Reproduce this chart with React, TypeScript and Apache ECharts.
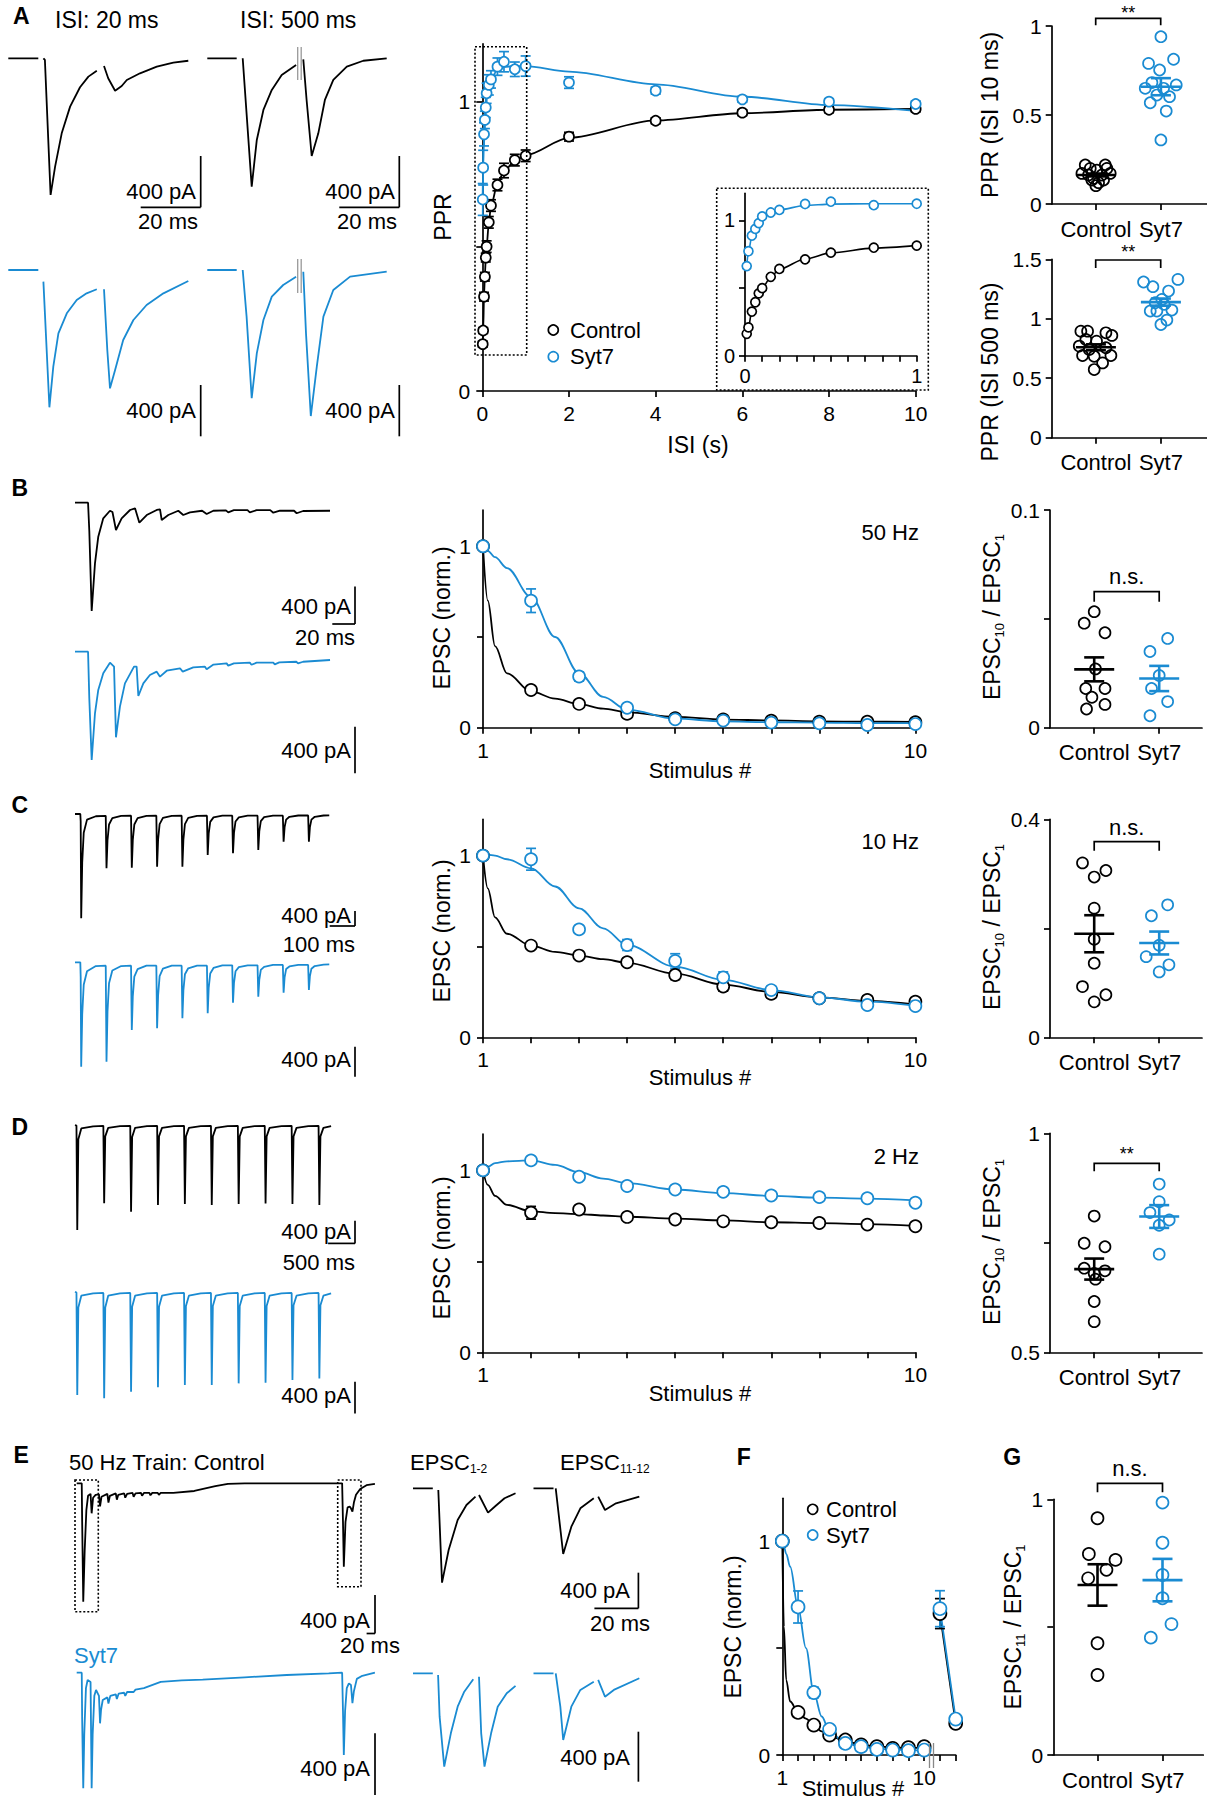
import React, { useEffect, useRef } from "react";
import * as echarts from "echarts";

const BLUE = "#1a8bd2";
const BLACK = "#000000";
const FONT = "'Liberation Sans', Arial, Helvetica, sans-serif";

// ---------------- Panel A (middle): PPR vs ISI ----------------
const isiSeconds = [0.01, 0.02, 0.04, 0.06, 0.08, 0.1, 0.15, 0.2, 0.35, 0.5, 0.75, 1, 2, 4, 6, 8, 10];
const pprControl = [0.162, 0.209, 0.326, 0.395, 0.461, 0.499, 0.583, 0.641, 0.712, 0.762, 0.798, 0.813, 0.879, 0.934, 0.962, 0.972, 0.975];
const pprSyt7 = [0.662, 0.772, 0.887, 0.937, 0.98, 1.029, 1.058, 1.077, 1.121, 1.138, 1.112, 1.123, 1.066, 1.038, 1.008, 1.0, 0.992];
const pprControlSem = [0.01, 0.01, 0.015, 0.015, 0.015, 0.02, 0.02, 0.02, 0.02, 0.025, 0.02, 0.02, 0.015, 0.01, 0.01, 0.01, 0.01];
const pprSyt7Sem = [0.055, 0.06, 0.04, 0.03, 0.035, 0.035, 0.035, 0.03, 0.03, 0.035, 0.025, 0.035, 0.02, 0.012, 0.01, 0.01, 0.01];
const pprFitX = [0.01, 0.02, 0.04, 0.06, 0.08, 0.1, 0.15, 0.2, 0.35, 0.5, 0.75, 1, 2, 4, 6, 8, 10];
const pprFitControl = [0.165, 0.21, 0.33, 0.4, 0.46, 0.5, 0.58, 0.64, 0.715, 0.76, 0.795, 0.815, 0.875, 0.935, 0.96, 0.972, 0.975];
const pprFitSyt7 = [0.66, 0.77, 0.88, 0.94, 0.98, 1.02, 1.055, 1.078, 1.11, 1.12, 1.123, 1.123, 1.104, 1.06, 1.017, 0.988, 0.968];

// ---------------- Panel A (right): PPR scatter ----------------
const ppr10Control = [0.219, 0.219, 0.2, 0.2, 0.19, 0.172, 0.172, 0.163, 0.163, 0.144, 0.135, 0.135, 0.12, 0.103];
const ppr10ControlDx = [-0.164, 0.144, -0.087, 0.169, 0.015, -0.215, 0.22, -0.113, 0.092, -0.036, -0.062, 0.118, 0.041, 0];
const ppr10Syt7 = [0.94, 0.813, 0.79, 0.753, 0.682, 0.669, 0.65, 0.65, 0.612, 0.603, 0.569, 0.522, 0.36];
const ppr10Syt7Dx = [0, 0.195, -0.19, -0.02, -0.138, 0.236, -0.241, 0.041, -0.062, 0.133, -0.164, 0.082, 0];
const ppr10Mean = [0.163, 0.659];
const ppr10Sem = [0.008, 0.048];

const ppr500Control = [0.896, 0.896, 0.882, 0.86, 0.826, 0.812, 0.691, 0.685, 0.691, 0.742, 0.629, 0.573, 0.77, 0.756];
const ppr500ControlDx = [-0.231, -0.128, 0.154, 0.246, -0.154, 0.01, -0.205, -0.026, 0.231, -0.103, 0.103, -0.026, -0.256, 0.154];
const ppr500Syt7 = [1.309, 1.27, 1.331, 1.233, 1.065, 1.065, 1.073, 1.121, 0.989, 0.952, 1.135, 1.163];
const ppr500Syt7Dx = [-0.267, -0.123, 0.262, 0.118, -0.164, -0.062, 0.169, 0.051, 0.092, 0, -0.087, 0.015];
const ppr500Mean = [0.76, 1.14];
const ppr500Sem = [0.025, 0.03];

// ---------------- Panels B-D (middle): normalized EPSC trains ----------------
const stimulus = [1, 2, 3, 4, 5, 6, 7, 8, 9, 10];
const hz50Control = [1.0, 0.208, 0.131, 0.076, 0.052, 0.046, 0.039, 0.033, 0.033, 0.03];
const hz50Syt7 = [1.0, 0.7, 0.282, 0.11, 0.046, 0.039, 0.028, 0.024, 0.015, 0.02];
const hz50ControlSem = [0, 0.008, 0.008, 0.006, 0.005, 0.005, 0.005, 0.005, 0.005, 0.005];
const hz50Syt7Sem = [0, 0.065, 0.025, 0.012, 0.008, 0.006, 0.005, 0.005, 0.005, 0.005];
const fitStimX = [1, 1.1, 1.25, 1.5, 2, 2.5, 3, 3.5, 4, 5, 6, 7, 8, 9, 10];
const hz50FitControl = [1.0, 0.7, 0.45, 0.3, 0.2, 0.16, 0.13, 0.105, 0.085, 0.06, 0.045, 0.04, 0.035, 0.033, 0.032];
const hz50FitSyt7 = [1.0, 0.975, 0.94, 0.88, 0.72, 0.5, 0.3, 0.17, 0.1, 0.05, 0.035, 0.03, 0.028, 0.025, 0.025];

const hz10Control = [1.0, 0.505, 0.45, 0.413, 0.343, 0.279, 0.239, 0.215, 0.206, 0.196];
const hz10Syt7 = [1.0, 0.98, 0.594, 0.508, 0.42, 0.33, 0.26, 0.215, 0.178, 0.172];
const hz10ControlSem = [0, 0.015, 0.01, 0.02, 0.025, 0.025, 0.02, 0.02, 0.02, 0.02];
const hz10Syt7Sem = [0, 0.06, 0.02, 0.03, 0.04, 0.03, 0.02, 0.02, 0.015, 0.015];
const hz10FitControl = [1.0, 0.82, 0.66, 0.57, 0.505, 0.47, 0.45, 0.43, 0.41, 0.35, 0.29, 0.25, 0.22, 0.2, 0.18];
const hz10FitSyt7 = [1.0, 1.005, 1.0, 0.98, 0.93, 0.83, 0.71, 0.6, 0.508, 0.389, 0.316, 0.26, 0.22, 0.196, 0.172];

const hz2Control = [1.0, 0.767, 0.785, 0.744, 0.73, 0.72, 0.715, 0.711, 0.702, 0.693];
const hz2Syt7 = [1.0, 1.055, 0.965, 0.914, 0.895, 0.882, 0.862, 0.853, 0.847, 0.822];
const hz2ControlSem = [0, 0.035, 0.01, 0.01, 0.01, 0.01, 0.01, 0.01, 0.01, 0.01];
const hz2Syt7Sem = [0, 0.01, 0.01, 0.01, 0.01, 0.01, 0.01, 0.01, 0.01, 0.01];
const hz2FitControl = [1.0, 0.92, 0.86, 0.81, 0.775, 0.765, 0.76, 0.752, 0.745, 0.735, 0.725, 0.715, 0.71, 0.705, 0.695];
const hz2FitSyt7 = [1.0, 1.02, 1.04, 1.05, 1.055, 1.03, 0.99, 0.955, 0.93, 0.895, 0.875, 0.86, 0.85, 0.845, 0.835];

// ---------------- Panels B-D (right): EPSC10 / EPSC1 ----------------
const b10Control = [0.0533, 0.048, 0.0436, 0.027, 0.018, 0.018, 0.014, 0.0107, 0.0086];
const b10ControlDx = [0, -0.154, 0.166, 0.02, -0.13, 0.166, -0.035, 0.166, -0.118];
const b10Syt7 = [0.041, 0.035, 0.024, 0.018, 0.012, 0.0055];
const b10Syt7Dx = [0.13, -0.142, 0, -0.118, 0.13, -0.142];
const b10Mean = [0.0268, 0.0226];
const b10Sem = [0.0055, 0.0058];

const c10Control = [0.32, 0.306, 0.294, 0.237, 0.18, 0.136, 0.093, 0.078, 0.065];
const c10ControlDx = [-0.18, 0.18, 0, 0, 0, 0, -0.18, 0.18, 0];
const c10Syt7 = [0.243, 0.223, 0.169, 0.148, 0.133, 0.12];
const c10Syt7Dx = [0.13, -0.12, 0, -0.2, 0.15, 0];
const c10Mean = [0.19, 0.173];
const c10Sem = [0.034, 0.021];

const d10Control = [0.811, 0.749, 0.741, 0.692, 0.686, 0.68, 0.667, 0.616, 0.57];
const d10ControlDx = [0, -0.154, 0.166, -0.154, 0.166, 0, 0.02, 0, 0];
const d10Syt7 = [0.884, 0.844, 0.819, 0.802, 0.79, 0.724];
const d10Syt7Dx = [0, 0, -0.142, 0.154, 0, 0];
const d10Mean = [0.69, 0.81];
const d10Sem = [0.024, 0.026];

// ---------------- Panel F: 50 Hz train + recovery ----------------
const fStimulus = [1, 2, 3, 4, 5, 6, 7, 8, 9, 10];
const fControl = [1.0, 0.199, 0.14, 0.093, 0.07, 0.047, 0.039, 0.031, 0.034, 0.039];
const fSyt7 = [1.0, 0.692, 0.292, 0.12, 0.054, 0.039, 0.026, 0.023, 0.02, 0.023];
const fControlSem = [0, 0.01, 0.008, 0.006, 0.005, 0.005, 0.005, 0.005, 0.005, 0.005];
const fSyt7Sem = [0, 0.075, 0.025, 0.012, 0.006, 0.005, 0.005, 0.005, 0.005, 0.005];
const fFitControl = [1.0, 0.6, 0.35, 0.25, 0.2, 0.17, 0.14, 0.11, 0.09, 0.065, 0.048, 0.04, 0.035, 0.033, 0.033];
const fFitSyt7 = [1.0, 0.975, 0.94, 0.88, 0.69, 0.5, 0.29, 0.18, 0.11, 0.055, 0.04, 0.03, 0.025, 0.022, 0.022];
const fRecoveryStim = [11, 12];
const fRecoveryControl = [0.661, 0.148];
const fRecoverySyt7 = [0.684, 0.168];
const fRecoveryControlSem = [0.07, 0.01];
const fRecoverySyt7Sem = [0.084, 0.01];

// ---------------- Panel G: EPSC11 / EPSC1 ----------------
const g11Control = [0.926, 0.786, 0.763, 0.724, 0.691, 0.437, 0.313];
const g11ControlDx = [0, -0.133, 0.277, 0.138, -0.144, 0, 0];
const g11Syt7 = [0.987, 0.83, 0.704, 0.613, 0.512, 0.459];
const g11Syt7Dx = [0, 0, 0, 0, 0.138, -0.18];
const g11Mean = [0.665, 0.684];
const g11Sem = [0.081, 0.083];

// ---------------- Example traces: [time ms, current pA] ----------------
const traceA20Control = [[0, 0], [10, 0], [10.5, null], [11.7, 0], [12.2, -13], [14.1, -1066], [15.6, -845], [17.8, -585], [20.6, -377], [23.9, -226], [26.7, -143], [29.5, -97], [30.5, null], [31.9, -60], [33.3, -156], [35.6, -253], [37.8, -216], [39.5, -169], [43.9, -117], [49.5, -65], [55, -34], [60, -19]];
const traceA20Syt7 = [[0, 0], [10, 0], [10.5, null], [11.7, -91], [13.7, -1071], [15, -754], [16.7, -494], [19.5, -338], [22.8, -234], [26.1, -182], [29.5, -150], [30.5, null], [31.9, -150], [33, -624], [33.9, -923], [35.6, -780], [38.3, -546], [41.7, -390], [46.1, -273], [51.7, -182], [60, -86]];
const traceA500Control = [[0, 0], [9.8, 0], [10.5, null], [11.8, 0], [14.8, -1001], [16.5, -637], [18.7, -403], [21.5, -247], [24.8, -130], [29.6, -52], [30.3, null], [32, -8], [33.1, -325], [34.8, -762], [37, -585], [39.2, -325], [42, -169], [46.5, -65], [52, -19], [59.8, 0]];
const traceA500Syt7 = [[0, 0], [9.8, 0], [10.5, null], [11.8, 0], [13.1, -364], [14.8, -1000], [16.5, -650], [18.7, -390], [21.5, -208], [25.3, -117], [29.6, -52], [30.3, null], [32, -13], [32.9, -494], [34.5, -1139], [36.5, -754], [38.7, -364], [42, -156], [47.6, -52], [59.8, -13]];

const trainB50Control = [[0, 0], [11.5, 0], [12.6, -300], [14.7, -1159], [17.6, -649], [20.5, -364], [24.9, -167], [30.8, -86], [33, -100], [36.1, -292], [41.1, -167], [48.5, -78], [52.9, -60], [56.7, -214], [63.2, -132], [72, -78], [74.9, -71], [76.4, -185], [82.2, -132], [91, -86], [95.4, -132], [101.3, -103], [112, -86], [116, -121], [121.9, -86], [133, -82], [135, -103], [140, -80], [152, -80], [154, -103], [160, -80], [172, -80], [174.7, -107], [180.6, -86], [193, -86], [195.3, -113], [201, -89], [224.7, -86]];
const trainB50Syt7 = [[0, 0], [11.5, 0], [12.6, -400], [14.7, -928], [17.6, -528], [20.5, -328], [24.9, -185], [30.8, -94], [34.4, -128], [36.1, -734], [39.6, -471], [44, -271], [52, -128], [54.3, -128], [55.8, -380], [60.2, -271], [66, -200], [72, -171], [74.9, -214], [80.8, -163], [92.5, -142], [94.9, -171], [104.2, -134], [114.5, -128], [116, -150], [122, -110], [133.6, -100], [135, -120], [140, -100], [154, -94], [155.5, -112], [160, -94], [174.7, -94], [176, -108], [180, -92], [195, -86], [196.5, -100], [201, -86], [224.7, -71]];

const trainC10Control = [[0, 0], [21, 0], [22.5, -200], [24.5, -2785], [28.5, -1300], [34.5, -500], [47.5, -150], [82.5, -60],
  [121.5, -50], [124.5, -1450], [128.5, -700], [134.5, -280], [147.5, -110], [182.5, -50],
  [221.5, -45], [224.5, -1432], [228.5, -690], [234.5, -280], [247.5, -110], [282.5, -50],
  [321.5, -45], [324.5, -1406], [328.5, -680], [334.5, -270], [347.5, -105], [382.5, -50],
  [421.5, -45], [424.5, -1406], [428.5, -680], [434.5, -270], [447.5, -105], [482.5, -50],
  [521.5, -45], [524.5, -1094], [528.5, -520], [534.5, -210], [547.5, -90], [582.5, -45],
  [621.5, -45], [624.5, -1050], [628.5, -500], [634.5, -200], [647.5, -90], [682.5, -45],
  [721.5, -45], [724.5, -961], [728.5, -460], [734.5, -190], [747.5, -85], [782.5, -45],
  [821.5, -45], [824.5, -739], [828.5, -350], [834.5, -150], [847.5, -75], [882.5, -40],
  [921.5, -40], [924.5, -739], [928.5, -350], [934.5, -150], [947.5, -75], [982.5, -40], [1005, -35]];
const trainC10Syt7 = [[0, 0], [21, 0], [22.5, -200], [24.5, -1392], [28.5, -700], [34.5, -300], [47.5, -120], [82.5, -50],
  [121.5, -45], [124.5, -1325], [128.5, -660], [134.5, -280], [147.5, -110], [182.5, -50],
  [221.5, -45], [224.5, -903], [228.5, -450], [234.5, -190], [247.5, -90], [282.5, -45],
  [321.5, -45], [324.5, -880], [328.5, -440], [334.5, -185], [347.5, -85], [382.5, -45],
  [421.5, -45], [424.5, -747], [428.5, -370], [434.5, -160], [447.5, -80], [482.5, -45],
  [521.5, -45], [524.5, -680], [528.5, -340], [534.5, -150], [547.5, -75], [582.5, -40],
  [621.5, -40], [624.5, -539], [628.5, -270], [634.5, -120], [647.5, -65], [682.5, -40],
  [721.5, -40], [724.5, -459], [728.5, -230], [734.5, -100], [747.5, -60], [782.5, -35],
  [821.5, -35], [824.5, -405], [828.5, -200], [834.5, -90], [847.5, -55], [882.5, -35],
  [921.5, -35], [924.5, -369], [928.5, -185], [934.5, -85], [947.5, -50], [982.5, -30], [1005, -28]];

const trainD2Control = [[0, 0], [27, -10], [42, -1850], [62, -250], [117, -60], [337, -25],
  [527, -15], [542, -1378], [562, -200], [617, -50], [837, -20],
  [1027, -15], [1042, -1526], [1062, -210], [1117, -50], [1337, -20],
  [1527, -15], [1542, -1408], [1562, -200], [1617, -50], [1837, -20],
  [2027, -15], [2042, -1390], [2062, -200], [2117, -50], [2337, -20],
  [2527, -15], [2542, -1408], [2562, -200], [2617, -50], [2837, -20],
  [3027, -15], [3042, -1390], [3062, -200], [3117, -50], [3337, -20],
  [3527, -15], [3542, -1380], [3562, -200], [3617, -50], [3837, -20],
  [4027, -15], [4042, -1390], [4062, -200], [4117, -50], [4337, -20],
  [4527, -15], [4542, -1408], [4562, -200], [4617, -50], [4760, -20]];
const trainD2Syt7 = [[0, 0], [27, -10], [42, -1302], [62, -200], [117, -50], [337, -20],
  [527, -15], [542, -1343], [562, -200], [617, -50], [837, -20],
  [1027, -15], [1042, -1260], [1062, -190], [1117, -50], [1337, -20],
  [1527, -15], [1542, -1205], [1562, -190], [1617, -50], [1837, -20],
  [2027, -15], [2042, -1176], [2062, -180], [2117, -50], [2337, -20],
  [2527, -15], [2542, -1176], [2562, -180], [2617, -50], [2837, -20],
  [3027, -15], [3042, -1155], [3062, -180], [3117, -50], [3337, -20],
  [3527, -15], [3542, -1147], [3562, -180], [3617, -50], [3837, -20],
  [4027, -15], [4042, -1113], [4062, -170], [4117, -50], [4337, -20],
  [4527, -15], [4542, -1092], [4562, -170], [4617, -50], [4760, -20]];

const trainE50Control = [[0, 0], [12, 0], [13, -400], [15.6, -1231], [19, -700], [23, -280], [27, -130], [33, -110], [35.6, -312], [39, -150], [45, -120], [53, -115], [55.6, -240], [59, -140], [73, -110], [75.6, -200], [79, -130], [93, -105], [95.6, -170], [99, -120], [113, -105], [115.6, -150], [120, -110], [133, -100], [135.6, -140], [140, -105], [153, -100], [155.6, -130], [160, -100], [173, -100], [175.6, -125], [180, -100], [193, -100], [195.6, -120], [200, -100], [230, -100], [280, -80], [330, -30], [360, -5], [400, 0], [632, 0], [634, -400], [636, -867], [640, -400], [645, -250], [650, -243], [653, -260], [656.5, -295], [660, -200], [665, -120], [675, -60], [690, -20], [710, -5]];
const trainE50Syt7 = [[0, 0], [12, 0], [13, -300], [15.6, -749], [18, -400], [22, -100], [26, -47], [33, -60], [35.6, -749], [38, -400], [42, -150], [46, -112], [53, -150], [55.6, -328], [58, -240], [62, -177], [73, -160], [75.6, -200], [80, -150], [93, -140], [95.6, -170], [100, -135], [113, -130], [115.6, -150], [120, -125], [135.6, -125], [140, -110], [160, -100], [200, -60], [250, -50], [300, -45], [400, -30], [500, -15], [600, -5], [632, 0], [634, -250], [636, -533], [639, -250], [643, -100], [648, -69], [653, -80], [656.5, -198], [660, -120], [667, -40], [680, -20], [710, 0]];
const epsc12Control = [[0, 0], [9, 0], [10, null], [11.5, -19], [13.2, -1057], [16.2, -691], [20.3, -355], [24.3, -187], [28.4, -94], [29.2, null], [30, -75], [34.1, -273], [37.5, -198], [41.6, -112], [46.6, -56]];
const epsc12Syt7 = [[0, 0], [9, 0], [10, null], [11.4, -14], [12.1, -347], [14.2, -747], [17.2, -480], [20.3, -267], [23.3, -147], [27.4, -48], [28.5, null], [30, -27], [31, -480], [32.5, -747], [35.5, -480], [38.5, -267], [42.6, -160], [46.6, -101]];
const epsc1112Control = [[0, 0], [9.1, 0], [9.8, null], [10.1, 0], [13.5, -736], [17.2, -430], [21.3, -224], [27.4, -112], [28.3, null], [29.4, -94], [32.5, -243], [37.5, -168], [48.1, -94]];
const epsc1112Syt7 = [[0, 0], [9.1, 0], [9.8, null], [10.1, 0], [12.2, -267], [13.5, -533], [17.2, -267], [21.3, -133], [27.4, -67], [28.3, null], [29.4, -53], [32.5, -187], [36.5, -133], [48.1, -40]];

// ================================================================
function buildOption() {
  const grids: any[] = [];
  const xAxes: any[] = [];
  const yAxes: any[] = [];
  const series: any[] = [];
  const g: any[] = [];

  const addGrid = (rect: number[], xa: any, ya: any) => {
    const i = grids.length;
    grids.push({ left: rect[0], top: rect[1], width: rect[2], height: rect[3], containLabel: false, show: false });
    xAxes.push({ ...xa, gridIndex: i });
    yAxes.push({ ...ya, gridIndex: i });
    return i;
  };

  const valAxis = (min: number, max: number, ticks: number[], labels: number[], size = 21, margin = 12, fmt?: any) => ({
    type: "value", min, max,
    axisLine: { show: true, onZero: false, lineStyle: { color: BLACK, width: 1.7 } },
    axisTick: { show: true, length: 6, customValues: ticks, lineStyle: { color: BLACK, width: 1.7 } },
    axisLabel: { show: true, customValues: labels, formatter: fmt || ((v: number) => String(v)), color: BLACK, fontSize: size, fontFamily: FONT, margin },
    splitLine: { show: false },
  });
  const catAxis = (width: number) => valAxis(0.32, 0.32 + width / 65, [1, 2], [1, 2], 22, 14, (v: number) => (v < 1.5 ? "Control" : "Syt7"));

  const line = (i: number, data: any[], color: string, width = 1.8, smooth: any = 0.35) => series.push({
    type: "line", xAxisIndex: i, yAxisIndex: i, data, symbol: "none", showSymbol: false, smooth, smoothMonotone: "x",
    lineStyle: { color, width }, z: 2, silent: true, clip: false,
  });
  const dots = (i: number, data: any[], color: string, size: number, fill: string) => series.push({
    type: "scatter", xAxisIndex: i, yAxisIndex: i, data, symbol: "circle", symbolSize: size,
    itemStyle: { color: fill, borderColor: color, borderWidth: 1.7, opacity: 1 }, z: 5, silent: true, clip: false,
  });
  const errBars = (i: number, xs: number[], ys: number[], sems: number[], color: string, cap = 5) => series.push({
    type: "custom", xAxisIndex: i, yAxisIndex: i, silent: true, z: 3, clip: false,
    data: xs.map((x, k) => [x, ys[k] - sems[k], ys[k] + sems[k]]).filter((_, k) => sems[k] > 0),
    renderItem: (_p: any, api: any) => {
      const a = api.coord([api.value(0), api.value(1)]);
      const b = api.coord([api.value(0), api.value(2)]);
      const st = { stroke: color, lineWidth: 1.7 };
      return { type: "group", children: [
        { type: "line", shape: { x1: a[0], y1: a[1], x2: b[0], y2: b[1] }, style: st },
        { type: "line", shape: { x1: a[0] - cap, y1: a[1], x2: a[0] + cap, y2: a[1] }, style: st },
        { type: "line", shape: { x1: b[0] - cap, y1: b[1], x2: b[0] + cap, y2: b[1] }, style: st },
      ] };
    },
  });
  const meanSem = (i: number, x: number, m: number, s: number, color: string) => series.push({
    type: "custom", xAxisIndex: i, yAxisIndex: i, silent: true, z: 6, clip: false,
    data: [[x, m, m - s, m + s]],
    renderItem: (_p: any, api: any) => {
      const c = api.coord([api.value(0), api.value(1)]);
      const lo = api.coord([api.value(0), api.value(2)]);
      const hi = api.coord([api.value(0), api.value(3)]);
      const st = { stroke: color, lineWidth: 2.6 };
      return { type: "group", children: [
        { type: "line", shape: { x1: c[0] - 20, y1: c[1], x2: c[0] + 20, y2: c[1] }, style: st },
        { type: "line", shape: { x1: lo[0], y1: lo[1], x2: hi[0], y2: hi[1] }, style: st },
        { type: "line", shape: { x1: lo[0] - 10, y1: lo[1], x2: lo[0] + 10, y2: lo[1] }, style: st },
        { type: "line", shape: { x1: hi[0] - 10, y1: hi[1], x2: hi[0] + 10, y2: hi[1] }, style: st },
      ] };
    },
  });
  const zip = (xs: number[], ys: number[]) => xs.map((x, k) => [x, ys[k]]);
  const jit = (vals: number[], dx: number[], c: number) => vals.map((v, k) => [c + dx[k], v]);

  // graphic helpers
  const T = (x: number, y: number, text: string, o: any = {}) => g.push({
    type: "text", x, y, z: 20, rotation: o.rot || 0, silent: true,
    style: { text, fill: o.fill || BLACK, fontSize: o.size || 22, fontFamily: FONT, fontWeight: o.weight || "normal",
      align: o.align || "center", verticalAlign: "middle", rich: o.rich },
  });
  const L = (x1: number, y1: number, x2: number, y2: number, color = BLACK, w = 1.7) => g.push({
    type: "line", z: 20, silent: true, shape: { x1, y1, x2, y2 }, style: { stroke: color, lineWidth: w },
  });
  const dotted = (x: number, y: number, w: number, h: number) => g.push({
    type: "rect", z: 20, silent: true, shape: { x, y, width: w, height: h },
    style: { fill: "none", stroke: BLACK, lineWidth: 1.6, lineDash: [2, 2] },
  });
  const bracket = (x1: number, x2: number, y: number, drop: number, label: string, ly: number, lsize = 22) => {
    g.push({ type: "polyline", z: 20, silent: true, shape: { points: [[x1, y + drop], [x1, y], [x2, y], [x2, y + drop]] },
      style: { stroke: BLACK, fill: "none", lineWidth: 1.7 } });
    T((x1 + x2) / 2, ly, label, { size: lsize });
  };
  const sub = (size = 23) => ({
    n: { fontSize: size, fontFamily: FONT, fill: BLACK },
    s: { fontSize: Math.round(size * 0.55), fontFamily: FONT, fill: BLACK, verticalAlign: "bottom", padding: [0, 0, -2, 0] },
  });
  const legendCircle = (cx: number, cy: number, color: string) => g.push({
    type: "circle", z: 20, silent: true, shape: { cx, cy, r: 5 }, style: { fill: "#fff", stroke: color, lineWidth: 1.7 },
  });

  // trace helper: k = pA per pixel, ms = pixels per ms
  const trace = (x0: number, base: number, ms: number, k: number, tMax: number, yMin: number, yMax: number, data: any[], color: string) => {
    const i = addGrid([x0, base - yMax / k, tMax * ms, (yMax - yMin) / k],
      { type: "value", min: 0, max: tMax, show: false },
      { type: "value", min: yMin, max: yMax, show: false });
    series.push({ type: "line", xAxisIndex: i, yAxisIndex: i, data, symbol: "none", showSymbol: false, connectNulls: false,
      clip: false, silent: true, lineStyle: { color, width: 1.8 }, z: 2 });
  };
  const vbar = (x: number, yBottom: number, k: number, color = BLACK) => L(x, yBottom - 400 / k, x, yBottom, color);
  const hbar = (xRight: number, y: number, ms: number, pxPerMs: number) => L(xRight - ms * pxPerMs, y, xRight, y);

  // ---------------- Panel A traces ----------------
  T(13, 16, "A", { size: 23, weight: "bold", align: "left" });
  T(55, 20, "ISI: 20 ms", { size: 23, align: "left" });
  T(240, 20, "ISI: 500 ms", { size: 23, align: "left" });
  trace(8.3, 58.3, 3, 7.8, 60, -1250, 60, traceA20Control, BLACK);
  trace(8.3, 270, 3, 7.8, 60, -1250, 60, traceA20Syt7, BLUE);
  trace(207.3, 58.3, 3, 7.8, 60, -1250, 60, traceA500Control, BLACK);
  trace(207.3, 270, 3, 7.8, 60, -1250, 60, traceA500Syt7, BLUE);
  vbar(200.7, 207.3, 7.8); hbar(200.7, 207.3, 20, 3);
  vbar(399.3, 207.3, 7.8); hbar(399.3, 207.3, 20, 3);
  vbar(200.7, 436.3, 7.8); vbar(399.3, 436.3, 7.8);
  T(196, 191, "400 pA", { align: "right" }); T(198, 221, "20 ms", { align: "right" });
  T(395, 191, "400 pA", { align: "right" }); T(397, 221, "20 ms", { align: "right" });
  T(196, 410, "400 pA", { align: "right" }); T(395, 410, "400 pA", { align: "right" });
  L(297.7, 47, 297.7, 80, "#999", 1.3); L(301.2, 47, 301.2, 80, "#999", 1.3);
  L(297.7, 259, 297.7, 293, "#999", 1.3); L(301.2, 259, 301.2, 293, "#999", 1.3);

  // ---------------- Panel A middle ----------------
  const aMain = addGrid([482.3, 43.8, 433.4, 347.2],
    valAxis(0, 10, [0, 2, 4, 6, 8, 10], [0, 2, 4, 6, 8, 10], 21, 12),
    valAxis(0, 1.2, [0, 0.5, 1], [0, 1], 21, 12));
  line(aMain, zip(pprFitX, pprFitControl), BLACK, 1.8, 0.3);
  line(aMain, zip(pprFitX, pprFitSyt7), BLUE, 1.8, 0.3);
  errBars(aMain, isiSeconds, pprControl, pprControlSem, BLACK, 5);
  errBars(aMain, isiSeconds, pprSyt7, pprSyt7Sem, BLUE, 5);
  dots(aMain, zip(isiSeconds, pprControl), BLACK, 10, "#fff");
  dots(aMain, zip(isiSeconds, pprSyt7), BLUE, 10, "#fff");
  dotted(475, 46.7, 51.7, 308.3);
  T(443, 217, "PPR", { size: 23, rot: Math.PI / 2 });
  T(698, 445, "ISI (s)", { size: 23 });
  legendCircle(553.3, 330, BLACK); T(570, 330, "Control", { size: 22, align: "left" });
  legendCircle(553.3, 356.7, BLUE); T(570, 356.7, "Syt7", { size: 22, align: "left" });

  // inset
  dotted(716.7, 188.3, 211.6, 201.7);
  const inX = isiSeconds.filter((x) => x <= 1);
  const nIn = inX.length;
  const fitIn = pprFitX.filter((x) => x <= 1).length;
  const aIn = addGrid([745, 193.3, 171.7, 162.4],
    valAxis(0, 1, [0, 0.1, 0.2, 0.3, 0.4, 0.5, 0.6, 0.7, 0.8, 0.9, 1], [0, 1], 20, 10),
    valAxis(0, 1.2, [0, 0.5, 1], [0, 1], 20, 10));
  line(aIn, zip(pprFitX.slice(0, fitIn), pprFitControl.slice(0, fitIn)), BLACK, 1.6, 0.3);
  line(aIn, zip(pprFitX.slice(0, fitIn), pprFitSyt7.slice(0, fitIn)), BLUE, 1.6, 0.3);
  dots(aIn, zip(inX, pprControl.slice(0, nIn)), BLACK, 9, "#fff");
  dots(aIn, zip(inX, pprSyt7.slice(0, nIn)), BLUE, 9, "#fff");

  // ---------------- Panel A right ----------------
  const aR1 = addGrid([1051.7, 26, 155, 178], catAxis(155), valAxis(0, 1, [0, 0.5, 1], [0, 0.5, 1], 21, 10));
  dots(aR1, jit(ppr10Control, ppr10ControlDx, 1), BLACK, 11, "rgba(255,255,255,0)");
  dots(aR1, jit(ppr10Syt7, ppr10Syt7Dx, 2), BLUE, 11, "rgba(255,255,255,0)");
  meanSem(aR1, 1, ppr10Mean[0], ppr10Sem[0], BLACK);
  meanSem(aR1, 2, ppr10Mean[1], ppr10Sem[1], BLUE);
  bracket(1095.7, 1160.7, 18.3, 7, "**", 13, 18);
  T(990, 115, "PPR (ISI 10 ms)", { size: 23, rot: Math.PI / 2 });

  const aR2 = addGrid([1051.7, 259.3, 155, 178.4], catAxis(155), valAxis(0, 1.5, [0, 0.5, 1, 1.5], [0, 0.5, 1, 1.5], 21, 10));
  dots(aR2, jit(ppr500Control, ppr500ControlDx, 1), BLACK, 11, "rgba(255,255,255,0)");
  dots(aR2, jit(ppr500Syt7, ppr500Syt7Dx, 2), BLUE, 11, "rgba(255,255,255,0)");
  meanSem(aR2, 1, ppr500Mean[0], ppr500Sem[0], BLACK);
  meanSem(aR2, 2, ppr500Mean[1], ppr500Sem[1], BLUE);
  bracket(1095.7, 1160.7, 260, 8, "**", 252, 18);
  T(990, 372, "PPR (ISI 500 ms)", { size: 23, rot: Math.PI / 2 });

  // ---------------- Panels B, C, D ----------------
  const midPanel = (top: number, height: number, ctrl: number[], syt: number[], cSem: number[], sSem: number[], fitC: number[], fitS: number[], hz: string, nameY: number, stimY: number) => {
    const i = addGrid([483, top, 432.4, height],
      valAxis(1, 10, [1, 2, 3, 4, 5, 6, 7, 8, 9, 10], [1, 10], 21, 12),
      valAxis(0, 1.2, [0, 0.5, 1], [0, 1], 21, 12));
    line(i, zip(fitStimX, fitC), BLACK, 1.8, 0.35);
    line(i, zip(fitStimX, fitS), BLUE, 1.8, 0.35);
    errBars(i, stimulus, ctrl, cSem, BLACK, 5);
    errBars(i, stimulus, syt, sSem, BLUE, 5);
    dots(i, zip(stimulus, ctrl), BLACK, 12, "#fff");
    dots(i, zip(stimulus, syt), BLUE, 12, "#fff");
    T(919, top + 22, hz, { size: 22, align: "right" });
    T(442, nameY, "EPSC (norm.)", { size: 23, rot: Math.PI / 2 });
    T(700, stimY, "Stimulus #", { size: 22 });
  };
  const rightPanel = (top: number, height: number, ymin: number, ymax: number, ticks: number[], labels: number[], c: number[], cdx: number[], s: number[], sdx: number[], mean: number[], sem: number[], nameY: number) => {
    const i = addGrid([1050, top, 152, height], catAxis(152), valAxis(ymin, ymax, ticks, labels, 21, 10));
    dots(i, jit(c, cdx, 1), BLACK, 11, "rgba(255,255,255,0)");
    dots(i, jit(s, sdx, 2), BLUE, 11, "rgba(255,255,255,0)");
    meanSem(i, 1, mean[0], sem[0], BLACK);
    meanSem(i, 2, mean[1], sem[1], BLUE);
    T(992, nameY, "{n|EPSC}{s|10}{n| / EPSC}{s|1}", { rot: Math.PI / 2, rich: sub(23) });
  };

  // B
  T(11.5, 488, "B", { size: 23, weight: "bold", align: "left" });
  trace(75, 502.7, 1.135, 10.7, 225, -1250, 60, trainB50Control, BLACK);
  trace(75, 651.7, 1.135, 8.57, 225, -1000, 60, trainB50Syt7, BLUE);
  vbar(355, 624, 10.7); hbar(355, 624, 20, 1.135);
  T(351, 606, "400 pA", { align: "right" }); T(355, 637, "20 ms", { align: "right" });
  vbar(355, 773.3, 8.57); T(351, 750, "400 pA", { align: "right" });
  midPanel(510, 217.7, hz50Control, hz50Syt7, hz50ControlSem, hz50Syt7Sem, hz50FitControl, hz50FitSyt7, "50 Hz", 618, 770);
  rightPanel(510, 217.7, 0, 0.1, [0, 0.05, 0.1], [0, 0.1], b10Control, b10ControlDx, b10Syt7, b10Syt7Dx, b10Mean, b10Sem, 617);
  bracket(1094.2, 1159.2, 591.7, 10, "n.s.", 576.7);

  // C
  T(11.5, 805, "C", { size: 23, weight: "bold", align: "left" });
  trace(75, 814, 0.253, 26.7, 1008, -2900, 100, trainC10Control, BLACK);
  trace(75, 962.3, 0.253, 13.33, 1008, -1450, 100, trainC10Syt7, BLUE);
  vbar(355, 926, 26.7); hbar(355, 926, 100, 0.253);
  T(351, 915, "400 pA", { align: "right" }); T(355, 944, "100 ms", { align: "right" });
  vbar(355, 1076.7, 13.33); T(351, 1059, "400 pA", { align: "right" });
  midPanel(819.3, 218, hz10Control, hz10Syt7, hz10ControlSem, hz10Syt7Sem, hz10FitControl, hz10FitSyt7, "10 Hz", 931, 1077);
  rightPanel(819.3, 218, 0, 0.4, [0, 0.2, 0.4], [0, 0.4], c10Control, c10ControlDx, c10Syt7, c10Syt7Dx, c10Mean, c10Sem, 927);
  bracket(1094.2, 1159.2, 841.7, 9, "n.s.", 827.3);

  // D
  T(11.5, 1127, "D", { size: 23, weight: "bold", align: "left" });
  trace(75, 1125, 0.0538, 17.6, 4760, -1950, 60, trainD2Control, BLACK);
  trace(75, 1291.7, 0.0538, 12.6, 4760, -1400, 60, trainD2Syt7, BLUE);
  vbar(355, 1243.4, 17.6); hbar(355, 1243.4, 500, 0.0538);
  T(351, 1231.7, "400 pA", { align: "right" }); T(355, 1262, "500 ms", { align: "right" });
  vbar(355, 1413.4, 12.6); T(351, 1395, "400 pA", { align: "right" });
  midPanel(1134, 218.3, hz2Control, hz2Syt7, hz2ControlSem, hz2Syt7Sem, hz2FitControl, hz2FitSyt7, "2 Hz", 1248, 1393);
  rightPanel(1133.3, 219, 0.5, 1, [0.5, 0.75, 1], [0.5, 1], d10Control, d10ControlDx, d10Syt7, d10Syt7Dx, d10Mean, d10Sem, 1242);
  bracket(1094.2, 1159.2, 1163.3, 8, "**", 1154, 18);

  // ---------------- Panel E ----------------
  T(13.4, 1455, "E", { size: 23, weight: "bold", align: "left" });
  T(69, 1462, "50 Hz Train: Control", { size: 22, align: "left" });
  T(74, 1655, "Syt7", { size: 22, align: "left", fill: BLUE });
  trace(76.7, 1483.3, 0.42, 10.4, 710, -1300, 50, trainE50Control, BLACK);
  trace(76.7, 1672.7, 0.42, 6.48, 710, -800, 50, trainE50Syt7, BLUE);
  dotted(75, 1480, 23.3, 131.7);
  dotted(337.7, 1480, 23.3, 106.7);
  vbar(375, 1633.5, 10.4); hbar(375, 1633.5, 20, 0.42);
  T(370, 1620, "400 pA", { align: "right" }); T(340, 1645, "20 ms", { align: "left" });
  vbar(375, 1795, 6.48); T(370, 1768, "400 pA", { align: "right" });
  T(410, 1462, "{n|EPSC}{s|1-2}", { align: "left", rich: sub(22) });
  T(560, 1462, "{n|EPSC}{s|11-12}", { align: "left", rich: sub(22) });
  trace(413, 1488.3, 2.2, 11.2, 48, -1150, 40, epsc12Control, BLACK);
  trace(413, 1673.3, 2.2, 8, 48, -800, 40, epsc12Syt7, BLUE);
  trace(533.5, 1488.3, 2.2, 11.2, 49, -1150, 40, epsc1112Control, BLACK);
  trace(533.5, 1673.3, 2.2, 8, 49, -800, 40, epsc1112Syt7, BLUE);
  vbar(638.4, 1608.4, 11.2); hbar(638.4, 1608.4, 20, 2.2);
  T(630, 1590, "400 pA", { align: "right" }); T(620, 1623, "20 ms");
  vbar(638.4, 1781.7, 8); T(630, 1757, "400 pA", { align: "right" });

  // ---------------- Panel F ----------------
  T(736.7, 1457, "F", { size: 23, weight: "bold", align: "left" });
  const fI = addGrid([782.3, 1498.3, 173.4, 256.7],
    valAxis(1, 12, [1, 2, 3, 4, 5, 6, 7, 8, 9, 10, 11, 12], [1, 10], 21, 12),
    valAxis(0, 1.2, [0, 0.5, 1], [0, 1], 21, 12));
  line(fI, zip(fitStimX, fFitControl), BLACK, 1.8, 0.35);
  line(fI, zip(fitStimX, fFitSyt7), BLUE, 1.8, 0.35);
  line(fI, zip(fRecoveryStim, fRecoveryControl), BLACK, 1.8, false);
  line(fI, zip(fRecoveryStim, fRecoverySyt7), BLUE, 1.8, false);
  errBars(fI, fStimulus, fControl, fControlSem, BLACK, 5);
  errBars(fI, fStimulus, fSyt7, fSyt7Sem, BLUE, 5);
  errBars(fI, fRecoveryStim, fRecoveryControl, fRecoveryControlSem, BLACK, 5);
  errBars(fI, fRecoveryStim, fRecoverySyt7, fRecoverySyt7Sem, BLUE, 5);
  dots(fI, zip(fStimulus, fControl), BLACK, 13, "#fff");
  dots(fI, zip(fStimulus, fSyt7), BLUE, 13, "#fff");
  dots(fI, zip(fRecoveryStim, fRecoveryControl), BLACK, 13, "#fff");
  dots(fI, zip(fRecoveryStim, fRecoverySyt7), BLUE, 13, "#fff");
  L(929.5, 1743, 929.5, 1768, "#888", 1.3); L(933.5, 1743, 933.5, 1768, "#888", 1.3);
  T(733.3, 1627, "EPSC (norm.)", { size: 23, rot: Math.PI / 2 });
  T(853, 1788, "Stimulus #", { size: 22 });
  legendCircle(812.7, 1509.3, BLACK); T(826, 1509.3, "Control", { size: 22, align: "left" });
  legendCircle(812.7, 1535, BLUE); T(826, 1535, "Syt7", { size: 22, align: "left" });

  // ---------------- Panel G ----------------
  T(1003.3, 1457, "G", { size: 23, weight: "bold", align: "left" });
  const gI = addGrid([1053.3, 1499.3, 150, 255.7], catAxis(150), valAxis(0, 1, [0, 0.5, 1], [0, 1], 21, 10));
  dots(gI, jit(g11Control, g11ControlDx, 1), BLACK, 12, "rgba(255,255,255,0)");
  dots(gI, jit(g11Syt7, g11Syt7Dx, 2), BLUE, 12, "rgba(255,255,255,0)");
  meanSem(gI, 1, g11Mean[0], g11Sem[0], BLACK);
  meanSem(gI, 2, g11Mean[1], g11Sem[1], BLUE);
  bracket(1097.5, 1162.5, 1483.3, 9, "n.s.", 1468.3);
  T(1013.3, 1627, "{n|EPSC}{s|11}{n| / EPSC}{s|1}", { rot: Math.PI / 2, rich: sub(23) });

  return {
    animation: false,
    backgroundColor: "#ffffff",
    grid: grids,
    xAxis: xAxes,
    yAxis: yAxes,
    series,
    graphic: g,
  };
}

export default function App() {
  const ref = useRef<HTMLDivElement>(null);
  useEffect(() => {
    if (!ref.current) return;
    const chart = echarts.init(ref.current, undefined, { renderer: "svg" });
    chart.setOption(buildOption() as any);
    return () => chart.dispose();
  }, []);
  return <div ref={ref} style={{ position: "absolute", left: 0, top: 0, width: 1207, height: 1800, background: "#fff" }} />;
}
